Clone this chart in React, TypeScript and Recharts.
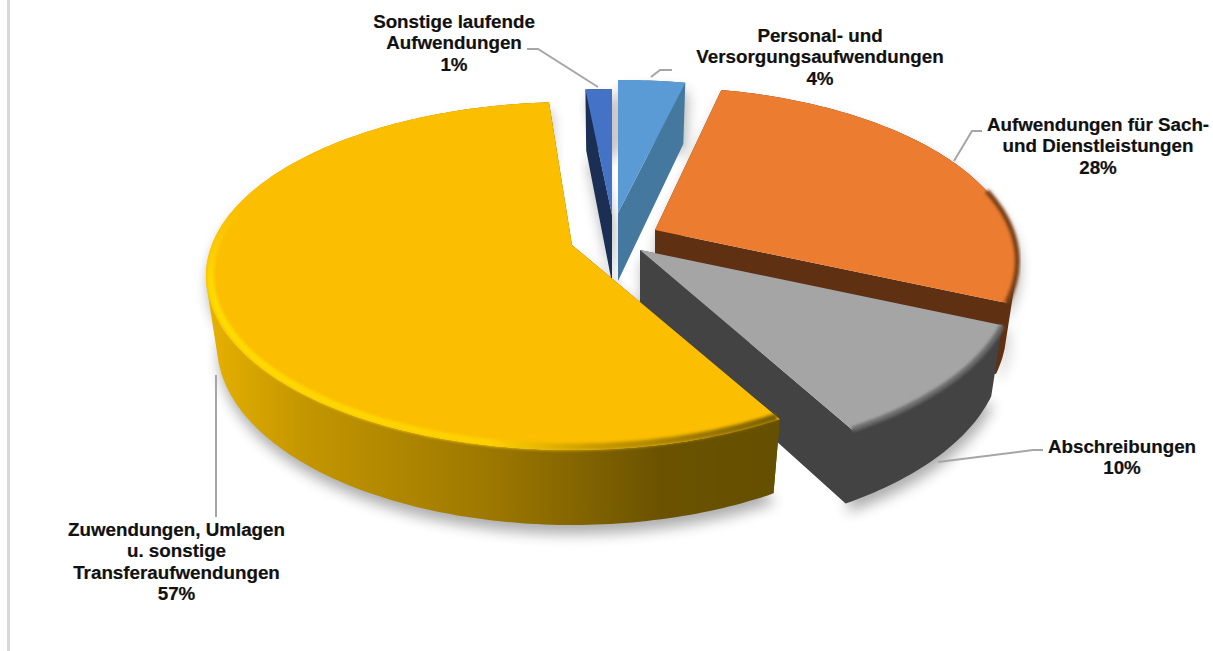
import React from "react";
import { PieChart, Pie } from "recharts";

const names = [
  "Sonstige laufende Aufwendungen",
  "Personal- und Versorgungsaufwendungen",
  "Aufwendungen für Sach- und Dienstleistungen",
  "Abschreibungen",
  "Zuwendungen, Umlagen u. sonstige Transferaufwendungen",
];
const values = [1.2, 3.5, 28.1, 10.3, 56.9];
const labelLines = [
  ["Sonstige laufende", "Aufwendungen"],
  ["Personal- und", "Versorgungsaufwendungen"],
  ["Aufwendungen für Sach-", "und Dienstleistungen"],
  ["Abschreibungen"],
  ["Zuwendungen, Umlagen", "u. sonstige", "Transferaufwendungen"],
];
const topColors = ["#4472C4", "#5B9BD5", "#EB7C30", "#A5A5A5", "#FBBE00"];
const wallColors = ["#1B2F55", "#44789F", "#5F3011", "#434343", "#C49600"];
const rimColors = ["#3A62A8", "#4F88BC", "#7A4018", "#6A6A6A", "#FFD000"];

// layout of the fake 3D view
const CX = 612;
const CY = 240;
const RADIUS = 168.5;
const X_STRETCH = 2.148;
const PERSPECTIVE = 0.178;
const explode = [
  [0, -25],
  [6, -27],
  [43, -10],
  [28, 10],
  [-40, 5],
];
const sliceScale = [
  [1.15, 0.88],
  [1, 0.93],
  [0.985, 1],
  [1.015, 1.03],
  [0.995, 1],
];
const labelPos = [
  { x: 454, y: 28 },
  { x: 820, y: 42 },
  { x: 1098, y: 131 },
  { x: 1122, y: 453 },
  { x: 176.5, y: 536 },
];
const leaders = [
  "598,87 538,49 527,49",
  "651,77 660,70 672,70",
  "954,161 972,131 982,131",
  "938,462 1033,450 1043,450",
  "216,375 216,517",
];

const data = names.map((name, i) => ({ name, value: values[i], fill: topColors[i] }));

function makeProjector(props: any) {
  const i = names.indexOf(props.name ?? props.payload?.name);
  const ax = props.cx + explode[i][0];
  const ay = props.cy + explode[i][1];
  const r = props.outerRadius;
  const [sx, sy] = sliceScale[i];
  const pt = (theta: number, f: number, low: boolean) => {
    const a = (theta * Math.PI) / 180;
    const u = Math.sin(a) * f;
    const v = Math.cos(a) * f;
    const w = 1 + PERSPECTIVE * v;
    const x = ax + ((r * X_STRETCH * sx * u) / w) * (low ? 0.97 : 1);
    const y = ay - (r * sy * v) / w + (low ? 68 - 7 * v : 0);
    return [x, y];
  };
  const from = 90 - props.startAngle;
  const to = 90 - props.endAngle;
  const angles = () => {
    const n = Math.max(2, Math.ceil(to - from));
    const list = [];
    for (let k = 0; k <= n; k++) list.push(from + ((to - from) * k) / n);
    return list;
  };
  const arc = (f: number, low: boolean, reverse = false) => {
    const pts = angles().map((t) => pt(t, f, low));
    return reverse ? pts.reverse() : pts;
  };
  return { i, ax, ay, pt, from, to, arc, angles };
}

const toOpen = (pts: number[][]) =>
  "M" + pts.map((p) => `${p[0].toFixed(1)},${p[1].toFixed(1)}`).join("L");
const toPath = (pts: number[][]) => toOpen(pts) + "Z";

// all quads wound the same way so one nonzero fill has no seams or holes
function sameWinding(q: number[][]) {
  let area = 0;
  q.forEach((p, k) => {
    const n = q[(k + 1) % q.length];
    area += p[0] * n[1] - n[0] * p[1];
  });
  return area < 0 ? [...q].reverse() : q;
}

function ShadowSlice(props: any) {
  const { i, ax, ay, arc } = makeProjector(props);
  const id = `soft-${i}`;
  const outline = [[ax, ay], ...arc(1, false), ...arc(1, true, true), [ax, ay + 68]];
  return (
    <g>
      <defs>
        <filter id={id} x="-30%" y="-30%" width="160%" height="160%">
          <feGaussianBlur stdDeviation="7" />
        </filter>
      </defs>
      <path d={toPath(outline)} transform="translate(2,9)" fill="#000" opacity={0.32} filter={`url(#${id})`} />
    </g>
  );
}

function Slice3D(props: any) {
  const { i, ax, ay, pt, from, to, arc, angles } = makeProjector(props);
  const top = [[ax, ay], ...arc(1, false)];
  const cut = (theta: number) => [[ax, ay], pt(theta, 1, false), pt(theta, 1, true), [ax, ay + 68]];
  const isYellow = i === 4;
  const wallFill = isYellow ? "url(#yellowWall)" : wallColors[i];
  const rimStroke = isYellow ? "url(#yellowRim)" : rimColors[i];
  const list = angles();
  const quads = list
    .slice(1)
    .map((t, k) =>
      toPath(sameWinding([pt(list[k], 1, false), pt(t, 1, false), pt(t, 1, true), pt(list[k], 1, true)]))
    )
    .join("");
  const cuts = toPath(sameWinding(cut(from))) + toPath(sameWinding(cut(to)));
  // only the near part of the rim catches light
  const rimPts = list
    .filter((t) => Math.cos((t * Math.PI) / 180) < 0.25)
    .map((t) => pt(t, isYellow ? 0.988 : 1, false));
  return (
    <g>
      <defs>
        <linearGradient id="yellowWall" gradientUnits="userSpaceOnUse" x1="205" x2="776" y1="0" y2="0">
          <stop offset="0" stopColor="#E8B200" />
          <stop offset="0.17" stopColor="#C49600" />
          <stop offset="0.52" stopColor="#9A7600" />
          <stop offset="0.8" stopColor="#6A5200" />
          <stop offset="1" stopColor="#655000" />
        </linearGradient>
        <linearGradient id="yellowRim" gradientUnits="userSpaceOnUse" x1="205" x2="778" y1="0" y2="0">
          <stop offset="0" stopColor="#FFDC00" />
          <stop offset="0.5" stopColor="#FFD000" />
          <stop offset="0.68" stopColor="#C89A00" />
          <stop offset="1" stopColor="#7A5F00" />
        </linearGradient>
        <linearGradient id="rimFade" gradientUnits="userSpaceOnUse" x1="0" x2="0" y1="205" y2="290">
          <stop offset="0" stopColor="#000" />
          <stop offset="1" stopColor="#fff" />
        </linearGradient>
        <mask id={`rimMask-${i}`} maskUnits="userSpaceOnUse" x="0" y="0" width="1213" height="651">
          <rect x="0" y="0" width="1213" height="651" fill="url(#rimFade)" />
        </mask>
        <filter id={`rim-${i}`} x="-10%" y="-10%" width="120%" height="120%">
          <feGaussianBlur stdDeviation="1.6" />
        </filter>
      </defs>
      {isYellow ? (
        <>
          <path d={cuts} fill="#655000" />
          <path d={quads} fill={wallFill} />
        </>
      ) : (
        <path d={cuts + quads} fill={wallFill} />
      )}
      <path d={toPath(top)} fill={topColors[i]} />
      {rimPts.length > 1 && (
        <g mask={isYellow ? `url(#rimMask-${i})` : undefined}>
          <path
            d={toOpen(rimPts)}
            fill="none"
            stroke={rimStroke}
            strokeWidth={isYellow ? 7 : 5}
            filter={`url(#rim-${i})`}
          />
        </g>
      )}
    </g>
  );
}

function SliceLabel(props: any) {
  const i = names.indexOf(props.name ?? props.payload?.name);
  const pos = labelPos[i];
  const lines = [...labelLines[i], `${Math.round(values[i])}%`];
  return (
    <g>
      <polyline points={leaders[i]} fill="none" stroke="#A6A6A6" strokeWidth={2} />
      <text
        x={pos.x}
        y={pos.y}
        textAnchor="middle"
        fontFamily="'Liberation Sans', Arial, sans-serif"
        fontWeight="bold"
        fontSize={18.8}
        fill="#111"
        stroke="#111"
        strokeWidth={0.2}
      >
        {lines.map((line, k) => (
          <tspan key={k} x={pos.x} y={pos.y + k * 21.3}>
            {line}
          </tspan>
        ))}
      </text>
    </g>
  );
}

export default function App() {
  return (
    <div style={{ position: "absolute", left: 0, top: 0, width: 1213, height: 651, overflow: "hidden", background: "#fff" }}>
      <div style={{ position: "absolute", left: 7, top: 0, width: 3, height: 651, background: "#D9D9D9" }} />
      <PieChart width={1213} height={651} margin={{ top: 0, right: 0, bottom: 0, left: 0 }}>
        <Pie
          data={data}
          dataKey="value"
          nameKey="name"
          cx={CX}
          cy={CY}
          outerRadius={RADIUS}
          startAngle={94.32}
          endAngle={-265.68}
          stroke="none"
          shape={ShadowSlice}
          isAnimationActive={false}
        />
        <Pie
          data={data}
          dataKey="value"
          nameKey="name"
          cx={CX}
          cy={CY}
          outerRadius={RADIUS}
          startAngle={94.32}
          endAngle={-265.68}
          stroke="none"
          shape={Slice3D}
          label={SliceLabel}
          labelLine={false}
          isAnimationActive={false}
        />
      </PieChart>
    </div>
  );
}
